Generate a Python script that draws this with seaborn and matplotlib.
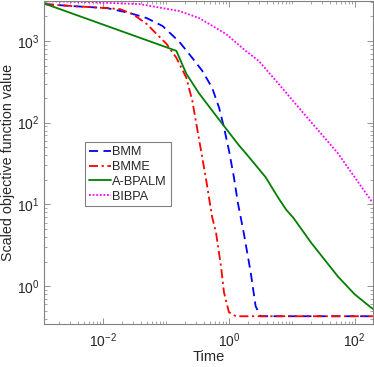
import numpy as np
import pandas as pd
import matplotlib
matplotlib.use("Agg")
import matplotlib.pyplot as plt
import matplotlib.ticker as mticker
import seaborn as sns

# values (log-log axes)
bmm_t = [0.00118, 0.00337, 0.01156, 0.0266, 0.0493, 0.0881, 0.163, 0.261, 0.376, 0.540,
         0.697, 0.834, 1.0, 1.20, 1.39, 1.72, 2.22, 2.66, 3.19, 195]
bmm_f = [2818, 2661, 2518, 2188, 1901, 1521, 973, 621, 432, 268,
         153, 87.7, 46.1, 21.6, 10.4, 4.52, 1.48, 0.570, 0.43, 0.43]

bmme_t = [0.00118, 0.00337, 0.01156, 0.0185, 0.0296, 0.0493, 0.0708, 0.1018, 0.146, 0.210,
          0.261, 0.337, 0.435, 0.540, 0.624, 0.748, 0.834, 1.0, 1.29, 195]
bmme_f = [2818, 2661, 2518, 2449, 2128, 1610, 1216, 920, 621, 355,
          187, 61, 19.9, 7.06, 4.52, 1.75, 0.844, 0.482, 0.43, 0.43]

abpalm_t = [0.00118, 0.146, 0.210, 0.337, 0.540, 0.776, 1.44, 1.85, 3.83, 6.12,
            8.19, 10.6, 20.3, 54.0, 100, 179, 195]
abpalm_f = [2850, 756, 397, 227, 141, 98, 53, 42.4, 21.6, 12.0,
            8.59, 6.87, 3.41, 1.32, 0.798, 0.555, 0.53]

bibpa_t = [0.00118, 0.00624, 0.0383, 0.163, 0.337, 0.897, 1.85, 2.97, 6.12, 14.1,
           54.0, 179, 195]
bibpa_f = [3062, 2979, 2818, 2317, 1901, 1216, 756, 571, 301, 141,
           42.4, 11.4, 10.6]

names = ["BMM", "BMME", "A-BPALM", "BIBPA"]
colors = ["#0000ff", "#ff0000", "#007f00", "#ff00ff"]
styles = [(0, (5, 3)), (0, (5, 2, 1.2, 2)), "-", (0, (1, 1))]

sns.set_theme(style="ticks")
plt.rcParams["font.family"] = ["Liberation Sans", "DejaVu Sans"]

fig = plt.figure(figsize=(3.74, 3.67), dpi=100)
ax = fig.add_axes([0.118, 0.117, 0.879, 0.881])

series = [(bmm_t, bmm_f), (bmme_t, bmme_f), (abpalm_t, abpalm_f), (bibpa_t, bibpa_f)]
for (t, f), name, c, ls in zip(series, names, colors, styles):
    df = pd.DataFrame({"Time": t, "val": f})
    sns.lineplot(data=df, x="Time", y="val", ax=ax, color=c, linestyle=ls,
                 linewidth=1.3, label=name, sort=False)

ax.set_xscale("log")
ax.set_yscale("log")
ax.set_xlim(0.00115, 195)
ax.set_ylim(0.345, 3100)

ax.xaxis.set_major_locator(mticker.FixedLocator([1e-2, 1e0, 1e2]))
ax.xaxis.set_minor_locator(mticker.LogLocator(base=10, subs=np.arange(1, 10), numticks=20))
ax.xaxis.set_minor_formatter(mticker.NullFormatter())
ax.yaxis.set_major_locator(mticker.FixedLocator([1e0, 1e1, 1e2, 1e3]))
ax.yaxis.set_minor_locator(mticker.LogLocator(base=10, subs=np.arange(2, 10), numticks=20))
ax.yaxis.set_minor_formatter(mticker.NullFormatter())

ax.tick_params(which="both", direction="in", top=True, right=True,
               colors="#808080", labelcolor="#262626", labelsize=10)
ax.tick_params(which="major", length=4, width=0.6)
ax.tick_params(which="minor", length=2, width=0.5)
ax.tick_params(axis="x", pad=5)
for s in ax.spines.values():
    s.set_color("#808080")
    s.set_linewidth(0.8)

ax.set_xlabel("Time", fontsize=10.5, color="#262626", labelpad=0)
ax.set_ylabel("Scaled objective function value", fontsize=10.3, color="#262626", labelpad=1)

leg = ax.legend(loc="upper left", bbox_to_anchor=(0.125, 0.562), borderaxespad=0,
                fontsize=9.2, handlelength=1.7, handletextpad=0.1, labelspacing=0.22,
                borderpad=0.3, fancybox=False, framealpha=1)
leg.get_frame().set_edgecolor("#808080")
leg.get_frame().set_linewidth(0.8)

fig.savefig("out.png", dpi=100)
